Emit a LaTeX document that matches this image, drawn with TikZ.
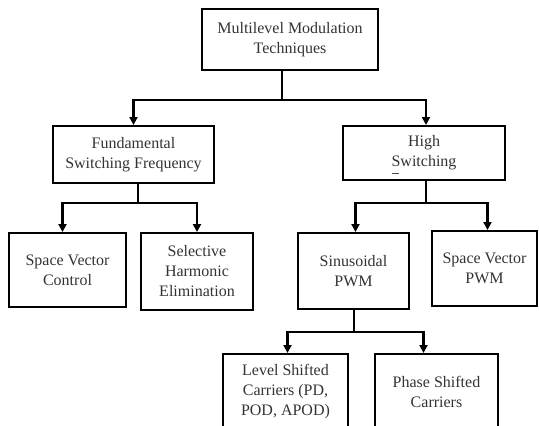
\documentclass[tikz,border=0pt]{standalone}
\usepackage{fontspec}
\setmainfont{Liberation Serif}
\usetikzlibrary{arrows.meta}
\begin{document}
\begin{tikzpicture}[x=1pt,y=-1pt,
 box/.style={draw=black, line width=2pt, inner sep=0pt, align=center, font=\fontsize{16pt}{20pt}\selectfont, text=black!80},
 conn/.style={line width=2.6pt},
 arr/.style={conn, -{Triangle[width=8pt,length=8pt]}}]
\useasboundingbox (0,0) rectangle (539,426);
\clip (0,0) rectangle (539,426);
% boxes
\node[box, minimum width=176pt, minimum height=61pt] (top) at (290,39.5) {Multilevel Modulation\\Techniques};
\node[box, minimum width=161pt, minimum height=57pt] (fund) at (133.5,154.5) {Fundamental\\Switching Frequency};
\node[box, minimum width=162pt, minimum height=54pt] (high) at (424,153) {High\\Switching};
\node[box, minimum width=117pt, minimum height=74pt] (svc) at (67.5,270) {Space Vector\\Control};
\node[box, minimum width=112pt, minimum height=77pt] (she) at (197,271.5) {Selective\\Harmonic\\Elimination};
\node[box, minimum width=111pt, minimum height=76pt] (sin) at (353.5,271) {Sinusoidal\\PWM};
\node[box, minimum width=105pt, minimum height=75pt] (svp) at (484.5,268.5) {Space Vector\\PWM};
\node[box, minimum width=125pt, minimum height=76pt] (lvl) at (285.5,392) {Level Shifted\\Carriers (PD,\\POD, APOD)};
\node[box, minimum width=123pt, minimum height=76pt] (phs) at (436.5,392) {Phase Shifted\\Carriers};
% stray mark under "Switching"
\draw[line width=1pt, black!70] (392,173) -- (399,173);
% junctions
\coordinate (j1) at (282,100);
\coordinate (j2) at (138,203);
\coordinate (j3) at (426,203);
\coordinate (j4) at (354,332);
% connectors
\draw[conn] (top.south -| j1) -- (j1);
\draw[arr] (j1) -| (fund.north);
\draw[arr] (j1) -| ([xshift=2pt]high.north);
\draw[conn] (fund.south -| j2) -- (j2);
\draw[arr] (j2) -| ([xshift=-5pt]svc.north);
\draw[arr] (j2) -| (she.north);
\draw[conn] (high.south -| j3) -- (j3);
\draw[arr] (j3) -| ([xshift=2pt]sin.north);
\draw[arr] (j3) -| ([xshift=3pt]svp.north);
\draw[conn] (sin.south -| j4) -- (j4);
\draw[arr] (j4) -| ([xshift=2pt]lvl.north);
\draw[arr] (j4) -| ([xshift=-13pt]phs.north);
\end{tikzpicture}
\end{document}
